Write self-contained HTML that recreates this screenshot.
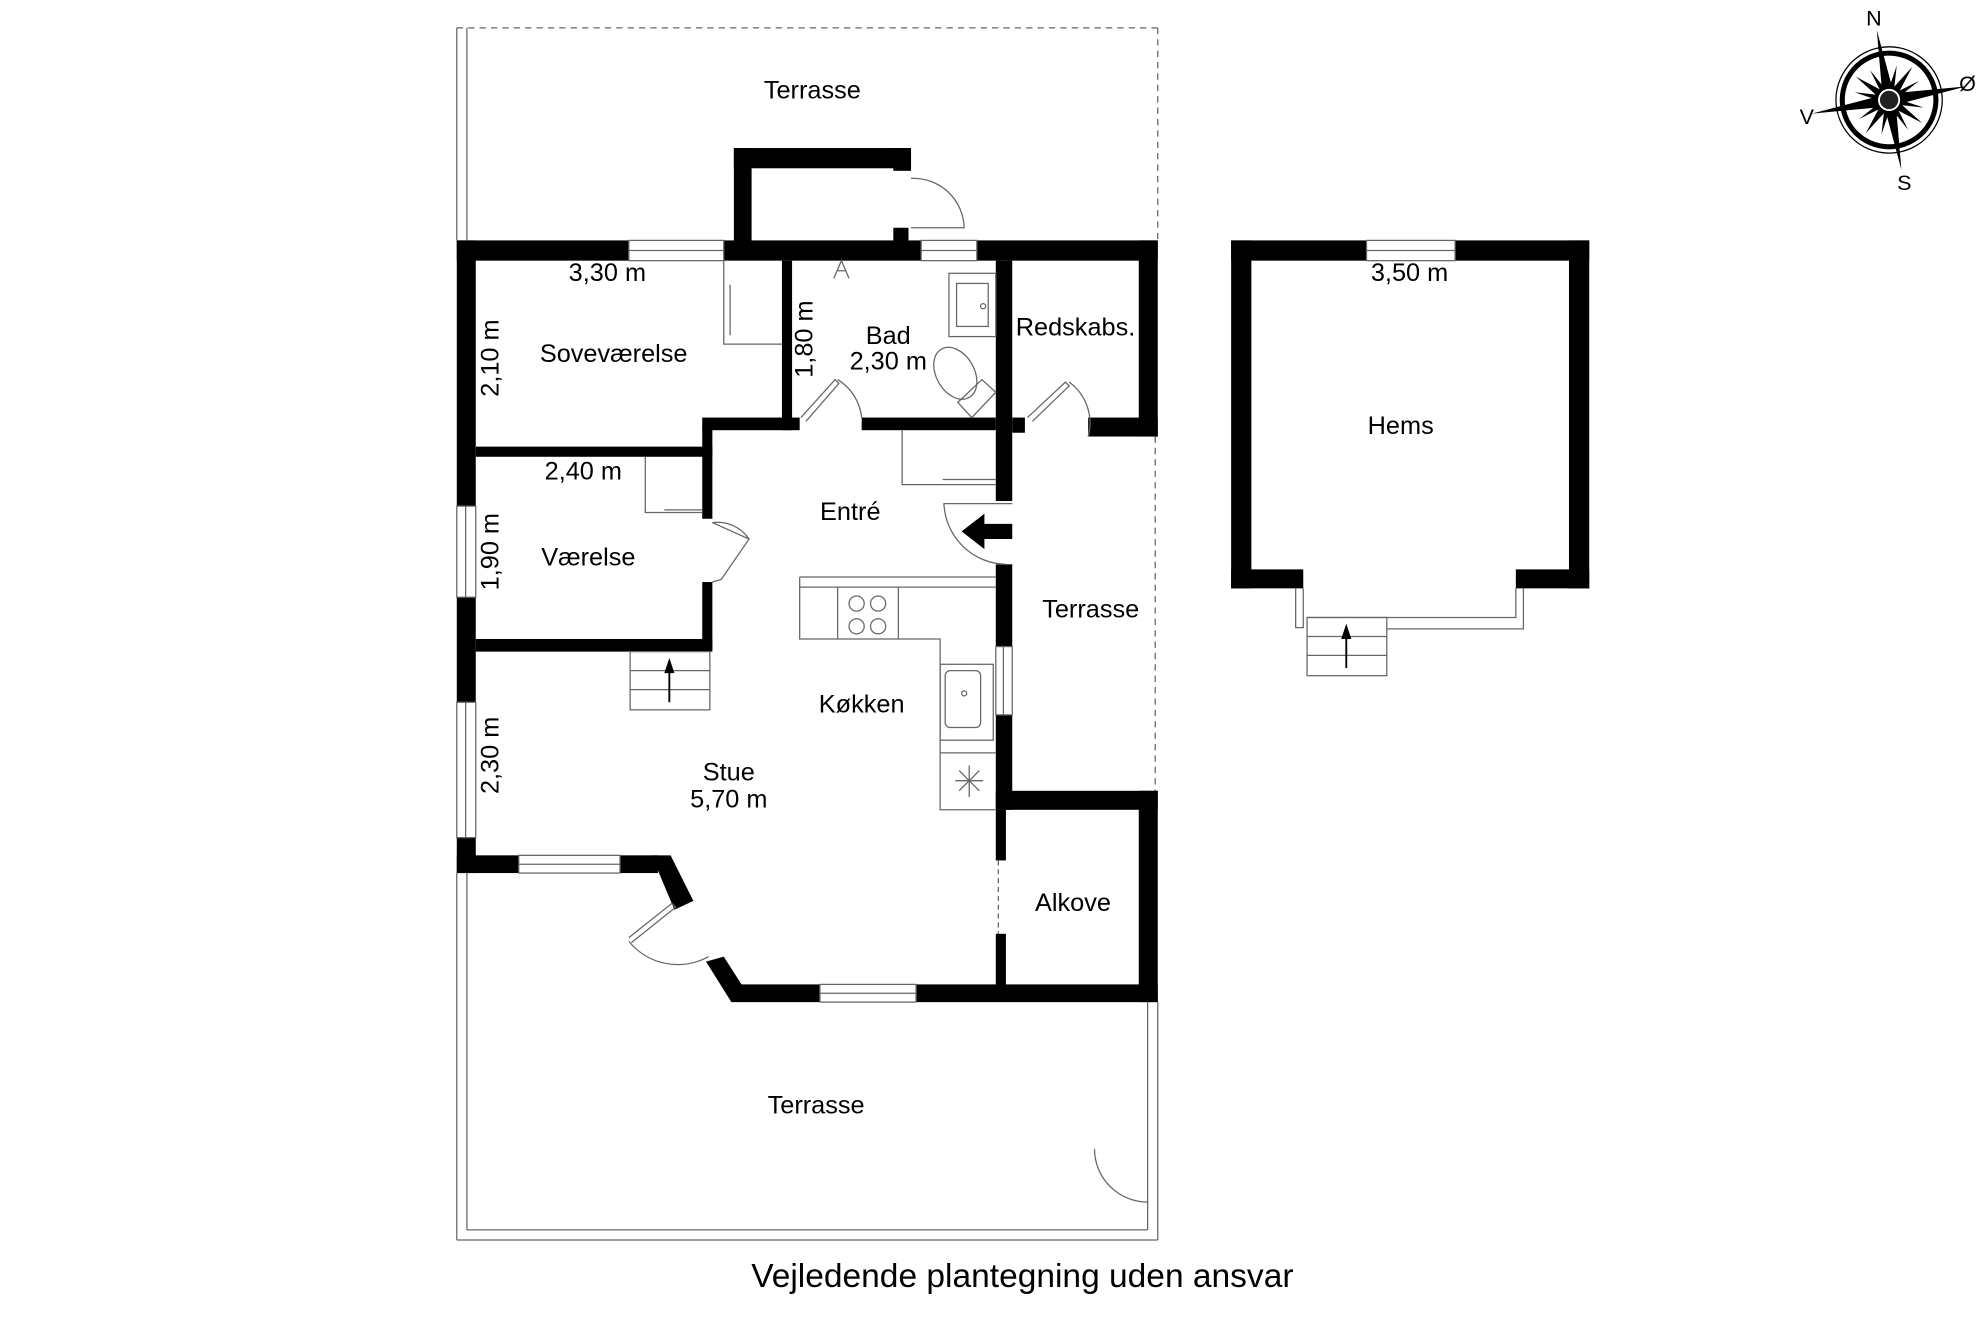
<!DOCTYPE html>
<html><head><meta charset="utf-8"><style>
html,body{margin:0;padding:0;background:#fff;}
svg{display:block;}
text{font-family:"Liberation Sans",Arial,sans-serif;fill:#000;}
</style></head><body>
<svg width="1984" height="1323" viewBox="0 0 1568 1045.6" xmlns="http://www.w3.org/2000/svg">
<g fill="none" stroke="#666" stroke-width="1">
<line x1="361" y1="22" x2="361" y2="190"/><line x1="369" y1="22" x2="369" y2="190"/>
<line x1="361" y1="22" x2="915" y2="22" stroke-dasharray="5,4"/>
<line x1="915" y1="22" x2="915" y2="190" stroke-dasharray="5,4"/>
<line x1="913" y1="345" x2="913" y2="625" stroke-dasharray="5,4"/>
<line x1="361" y1="690" x2="361" y2="980"/><line x1="369" y1="690" x2="369" y2="972"/>
<line x1="361" y1="980" x2="915" y2="980"/><line x1="369" y1="972" x2="907" y2="972"/>
<line x1="915" y1="792" x2="915" y2="980"/><line x1="907" y1="792" x2="907" y2="908"/>
<line x1="907" y1="950" x2="907" y2="972"/>
<path d="M865 908 A42 42 0 0 0 907 950 L907 908"/>
<line x1="789" y1="680" x2="789" y2="738" stroke-dasharray="4,3"/>
</g>
<g fill="#000">
<rect x="580" y="117" width="140" height="16"/><rect x="580" y="117" width="14" height="75"/><rect x="706" y="117" width="14" height="18"/>
<rect x="706" y="180" width="12" height="12"/>
<rect x="361" y="190" width="136" height="16"/><rect x="572" y="190" width="156" height="16"/><rect x="772" y="190" width="143" height="16"/>
<rect x="361" y="190" width="15" height="210"/><rect x="361" y="472" width="15" height="83"/><rect x="361" y="662" width="15" height="28"/>
<rect x="361" y="676" width="49" height="14"/><rect x="490" y="676" width="30" height="14"/>
<polygon points="515,676 530,676 548,712 533,719"/>
<polygon points="558,760 572,756 586,778 578,792"/>
<rect x="578" y="778" width="70" height="14"/><rect x="724" y="778" width="191" height="14"/>
<rect x="376" y="353" width="187" height="8"/>
<rect x="555" y="337" width="8" height="73"/><rect x="555" y="460" width="8" height="53"/>
<rect x="376" y="505" width="187" height="10"/>
<rect x="618" y="206" width="8" height="134"/>
<rect x="555" y="330" width="77" height="10"/><rect x="681" y="330" width="106" height="10"/>
<rect x="787" y="206" width="13" height="190"/><rect x="800" y="330" width="10" height="12"/>
<rect x="900" y="190" width="15" height="155"/><rect x="860" y="330" width="55" height="15"/>
<rect x="787" y="446" width="13" height="65"/><rect x="787" y="565" width="13" height="75"/>
<rect x="787" y="625" width="128" height="15"/><rect x="900" y="625" width="15" height="167"/>
<rect x="787" y="640" width="8" height="40"/><rect x="787" y="738" width="8" height="42"/>
<polygon points="760,420 778,406 778,414 800,414 800,426 778,426 778,434"/>
<rect x="973" y="190" width="107" height="16"/><rect x="1150" y="190" width="106" height="16"/>
<rect x="973" y="190" width="16" height="275"/><rect x="1240" y="190" width="16" height="275"/>
<rect x="973" y="450" width="57" height="15"/><rect x="1198" y="450" width="58" height="15"/>
</g>
<g fill="none" stroke="#666" stroke-width="1">
<rect x="497" y="190" width="75" height="16"/><line x1="497" y1="198" x2="572" y2="198"/>
<rect x="728" y="190" width="44" height="16"/><line x1="728" y1="198" x2="772" y2="198"/>
<rect x="361" y="400" width="15" height="72"/><line x1="368" y1="400" x2="368" y2="472"/>
<rect x="361" y="555" width="15" height="107"/><line x1="368" y1="555" x2="368" y2="662"/>
<rect x="410" y="676" width="80" height="14"/><line x1="410" y1="683" x2="490" y2="683"/>
<rect x="648" y="778" width="76" height="14"/><line x1="648" y1="785" x2="724" y2="785"/>
<rect x="787" y="511" width="13" height="54"/><line x1="793" y1="511" x2="793" y2="565"/>
<rect x="1080" y="190" width="70" height="16"/><line x1="1080" y1="198" x2="1150" y2="198"/>
<path d="M720 141 A40 40 0 0 1 762 180 L720 180"/>
<path d="M572 206 L572 272 L618 272"/><line x1="577" y1="225" x2="577" y2="265"/>
<path d="M633 330 L660 300 L663 303 L637 333"/><path d="M662 300 A40 40 0 0 1 681 330"/>
<path d="M812 330 L842 302 L845 305 L816 333"/><path d="M845 302 A40 40 0 0 1 860 345"/>
<path d="M563 413 L592 426 L570 458 L563 460"/><path d="M563 413 A30 30 0 0 1 592 426"/>
<path d="M800 398 L746 398 A50 50 0 0 0 795 446"/>
<path d="M713 340 L713 383 L787 383"/><line x1="745" y1="379" x2="787" y2="379"/>
<path d="M510 361 L510 405 L555 405"/><line x1="525" y1="403" x2="555" y2="403"/>
<path d="M497 741 L531 714 L534 717 L499 745"/><path d="M497 744 A50 50 0 0 0 560 756"/>
<path d="M632 456 L787 456 M632 456 L632 505 L743 505 L743 640 L787 640"/>
<line x1="632" y1="464" x2="787" y2="464"/>
<line x1="662" y1="464" x2="662" y2="505"/><line x1="710" y1="464" x2="710" y2="505"/>
<circle cx="677" cy="477" r="6"/><circle cx="694" cy="477" r="6"/><circle cx="677" cy="495" r="6"/><circle cx="694" cy="495" r="6"/>
<rect x="743" y="525" width="42" height="60"/><rect x="747" y="530" width="28" height="45" rx="4"/>
<circle cx="762" cy="548" r="2"/>
<line x1="743" y1="595" x2="787" y2="595"/>
<path d="M755 617 L777 617 M766 605 L766 630 M758 609 L774 625 M774 609 L758 625"/>
<rect x="750" y="216" width="37" height="50"/><rect x="756" y="224" width="25" height="34"/><circle cx="777" cy="242" r="2"/>
<ellipse cx="755" cy="295" rx="15" ry="22" transform="rotate(-30 755 295)"/>
<path d="M757 318 L776 300 L787 310 L768 330 Z"/>
<path d="M659 220 L665 206 L671 220 M661 214 L669 214"/>
<rect x="498" y="515" width="63" height="46"/><line x1="498" y1="530" x2="561" y2="530"/><line x1="498" y1="545" x2="561" y2="545"/>
<path d="M1030 465 L1030 496 L1024 496 L1024 465 M1033 488 L1198 488 L1198 465 M1204 465 L1204 497 L1096 497"/>
<rect x="1033" y="488" width="63" height="46"/><line x1="1033" y1="503" x2="1096" y2="503"/><line x1="1033" y1="518" x2="1096" y2="518"/>
</g>
<g stroke="#000" stroke-width="1.5">
<line x1="529" y1="555" x2="529" y2="528"/><line x1="1064" y1="528" x2="1064" y2="502"/>
</g>
<polygon points="529,520 525,532 533,532" fill="#000"/>
<polygon points="1064,493 1060,505 1068,505" fill="#000"/>
<g transform="translate(1493,79) rotate(-10)">
<circle r="42" fill="none" stroke="#000" stroke-width="1"/>
<circle r="37" fill="none" stroke="#000" stroke-width="4"/>
<g fill="#000">
<polygon points="0,-56 5,0 0,56 -5,0"/>
<polygon points="-62,0 0,5 62,0 0,-5"/>
<g transform="rotate(45)"><polygon points="0,-32 4,0 0,32 -4,0"/><polygon points="-32,0 0,4 32,0 0,-4"/></g>
<g transform="rotate(22.5)"><polygon points="0,-28 3,0 0,28 -3,0"/><polygon points="-28,0 0,3 28,0 0,-3"/></g>
<g transform="rotate(67.5)"><polygon points="0,-28 3,0 0,28 -3,0"/><polygon points="-28,0 0,3 28,0 0,-3"/></g>
</g>
<circle r="8" fill="#222" stroke="#fff" stroke-width="1.5"/>
</g>
<g font-size="17">
<text x="1481" y="20" text-anchor="middle">N</text>
<text x="1555" y="72" text-anchor="middle">Ø</text>
<text x="1428" y="98" text-anchor="middle">V</text>
<text x="1505" y="150" text-anchor="middle">S</text>
</g>
<g font-size="20" text-anchor="middle">
<text x="642" y="78">Terrasse</text>
<text x="480" y="222">3,30 m</text>
<text x="485" y="286">Soveværelse</text>
<text x="702" y="272">Bad</text>
<text x="702" y="292">2,30 m</text>
<text x="850" y="265">Redskabs.</text>
<text x="461" y="379">2,40 m</text>
<text x="672" y="411">Entré</text>
<text x="465" y="447">Værelse</text>
<text x="862" y="488">Terrasse</text>
<text x="681" y="563">Køkken</text>
<text x="576" y="617">Stue</text>
<text x="576" y="638">5,70 m</text>
<text x="848" y="720">Alkove</text>
<text x="645" y="880">Terrasse</text>
<text x="1114" y="222">3,50 m</text>
<text x="1107" y="343">Hems</text>
<text transform="translate(394,283) rotate(-90)">2,10 m</text>
<text transform="translate(642,268) rotate(-90)">1,80 m</text>
<text transform="translate(394,436) rotate(-90)">1,90 m</text>
<text transform="translate(394,597) rotate(-90)">2,30 m</text>
</g>
<text x="808" y="1017" font-size="26.5" text-anchor="middle">Vejledende plantegning uden ansvar</text>
</svg>
</body></html>
